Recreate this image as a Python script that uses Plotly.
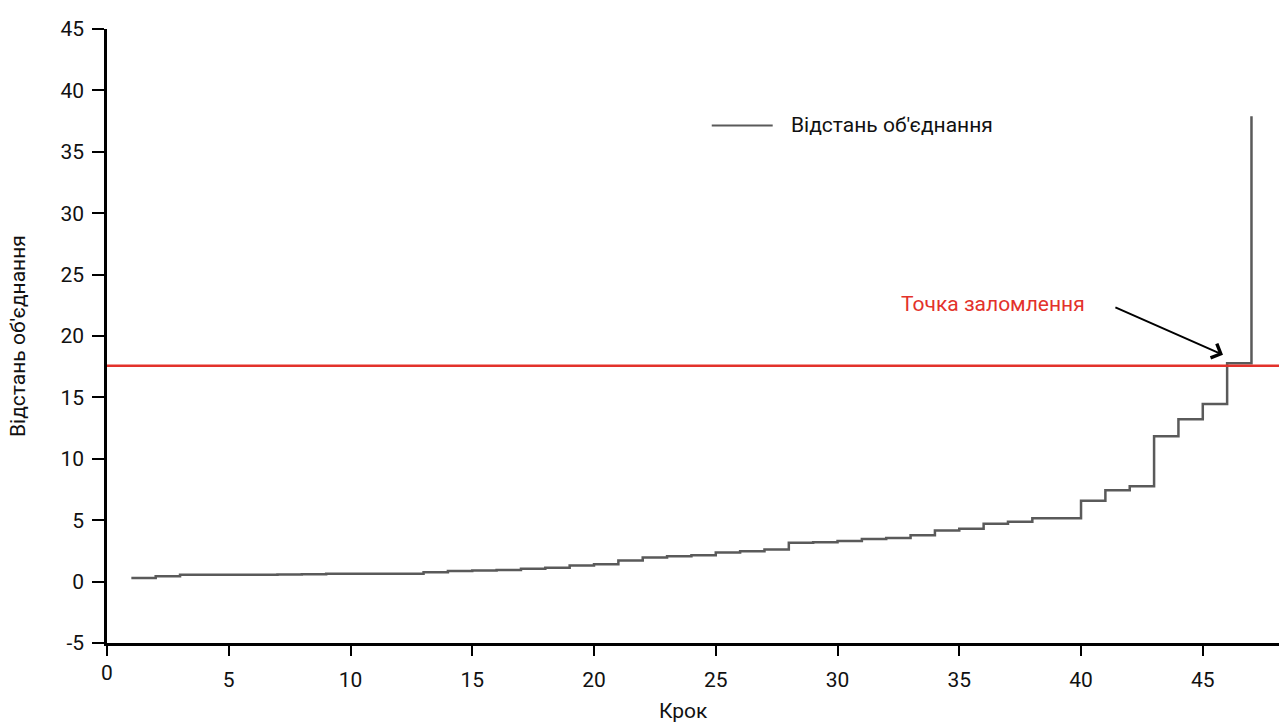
import plotly.graph_objects as go

# Merge step index and the linkage distance reached at that step
steps = list(range(1, 48))
merge_distance = [
    0.30, 0.44, 0.55, 0.55, 0.56, 0.56, 0.57, 0.60, 0.63, 0.63,
    0.63, 0.64, 0.76, 0.87, 0.91, 0.95, 1.04, 1.12, 1.31, 1.42,
    1.72, 1.97, 2.07, 2.15, 2.37, 2.48, 2.62, 3.16, 3.21, 3.30,
    3.46, 3.56, 3.78, 4.17, 4.30, 4.71, 4.87, 5.15, 5.16, 6.58,
    7.43, 7.76, 11.84, 13.22, 14.47, 17.79, 37.9,
]

# Cut-off level (elbow) and annotation text
elbow_level = 17.57
elbow_label = "Точка заломлення"
series_name = "Відстань об'єднання"
x_title = "Крок"
y_title = "Відстань об'єднання"

x_ticks = [0, 5, 10, 15, 20, 25, 30, 35, 40, 45]
y_ticks = [-5, 0, 5, 10, 15, 20, 25, 30, 35, 40, 45]
y_tick_text = ["-5", "0", "5", "10", "15", "20", "25", "30", "35", "40", "45"]

FONT = "Roboto, 'Open Sans', sans-serif"
FS = 21
LINE_COLOR = "#5a5a5a"
RED = "#e3322b"
TEXT = "#111"

fig = go.Figure()

fig.add_trace(go.Scatter(
    x=steps, y=merge_distance, mode="lines", line_shape="hv",
    line=dict(color=LINE_COLOR, width=2.5), name=series_name,
    showlegend=False,
))

# Horizontal cut-off line across the whole plot width
fig.add_shape(type="line", xref="paper", yref="y", x0=0, x1=1,
              y0=elbow_level, y1=elbow_level,
              line=dict(color=RED, width=2.5))

# Legend: sample line plus label
fig.add_shape(type="line", xref="paper", yref="paper",
              x0=0.516, x1=0.568, y0=0.843, y1=0.843,
              line=dict(color=LINE_COLOR, width=2))
fig.add_annotation(xref="paper", yref="paper", x=0.582, y=0.843,
                   text=series_name, showarrow=False, xanchor="left",
                   yanchor="middle", font=dict(family=FONT, size=FS, color=TEXT))

# Elbow label and arrow pointing to the break point
fig.add_annotation(x=36.4, y=22.6, text=elbow_label, showarrow=False,
                   xanchor="center", yanchor="middle",
                   font=dict(family=FONT, size=FS, color=RED))
fig.add_annotation(x=45.83, y=18.47, ax=41.35, ay=22.39, axref="x", ayref="y",
                   text="", showarrow=True, arrowhead=4, arrowsize=1.5,
                   arrowwidth=2, arrowcolor="#000")

# Origin label sits a little higher than the other x tick labels
fig.add_annotation(x=0, y=0, xref="x", yref="paper", yshift=-30,
                   xanchor="center", yanchor="middle",
                   text="0", showarrow=False,
                   font=dict(family=FONT, size=FS, color=TEXT))

# Axis titles
fig.add_annotation(xref="paper", yref="paper", x=0.492, y=0, yshift=-68,
                   xanchor="center", yanchor="middle",
                   text=x_title, showarrow=False,
                   font=dict(family=FONT, size=FS, color=TEXT))
fig.add_annotation(xref="paper", yref="paper", x=0, xshift=-89, y=0.5,
                   xanchor="center", yanchor="middle",
                   text=y_title, textangle=-90, showarrow=False,
                   font=dict(family=FONT, size=FS, color=TEXT))

fig.update_layout(
    width=1279, height=725,
    margin=dict(l=107, r=0, t=29, b=82),
    paper_bgcolor="white", plot_bgcolor="white",
    font=dict(family=FONT, size=FS, color=TEXT),
    showlegend=False,
)

fig.update_xaxes(
    range=[0, 48.13], tickvals=x_ticks,
    ticktext=["" if v == 0 else str(v) for v in x_ticks],
    showline=True, linecolor="black", linewidth=2.5,
    ticks="outside", ticklen=10, tickwidth=2, tickcolor="black",
    ticklabelstandoff=6,
    showgrid=False, zeroline=False,
)
fig.update_yaxes(
    range=[-5, 45], tickvals=y_ticks, ticktext=y_tick_text,
    showline=True, linecolor="black", linewidth=2.5,
    ticks="outside", ticklen=12, tickwidth=2, tickcolor="black",
    ticklabelstandoff=4,
    showgrid=False, zeroline=False,
)

fig.write_html("out.html")
